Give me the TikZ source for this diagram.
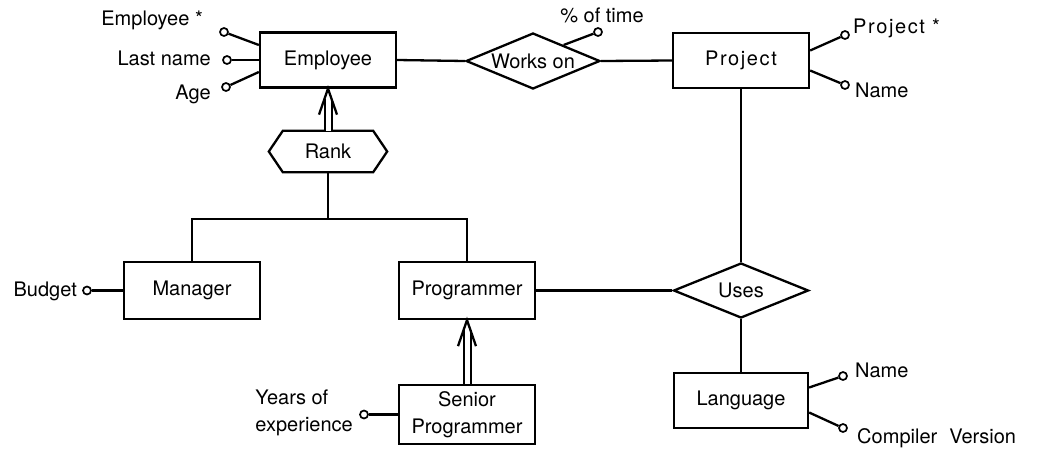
\documentclass[tikz,border=0pt]{standalone}
\usepackage{fontspec}
\setmainfont{TeX Gyre Heros}
\newfontfamily\spacedfont[LetterSpace=8]{TeX Gyre Heros}
\usetikzlibrary{shapes.geometric,calc}
\begin{document}
\begin{tikzpicture}[x=1pt,y=-1pt,
  every node/.style={font=\fontsize{20}{27}\selectfont},
  entity/.style={draw, line width=2.3pt, rectangle, minimum width=136pt, minimum height=55pt, inner sep=2pt, align=center},
  rel/.style={draw, line width=2.3pt, diamond, aspect=2.4, inner sep=0pt, minimum width=134pt, minimum height=56pt},
  hexa/.style={rectangle, inner sep=2pt, minimum width=118pt, minimum height=41pt},
  attr/.style={draw, circle, line width=1.7pt, inner sep=0pt, minimum size=8pt, fill=white},
  conn/.style={line width=2.3pt},
  dbl/.style={double, double distance=5pt, line width=2pt},
  lbl/.style={inner sep=0pt},
]
\useasboundingbox (0,0) rectangle (1037,448);

% entities and relationships
\node[entity] (emp) at (328,60) {Employee};
\node[rel] (works) at (533,61) {Works on};
\node[entity] (proj) at (741,60.5) {\spacedfont Project};
\node[hexa] (rank) at (328,151.5) {Rank};
\coordinate (bar) at (329,219);
\node[entity, minimum height=57pt] (mgr) at (192,290.5) {Manager};
\node[entity, minimum height=57pt] (prog) at (467,290.5) {Programmer};
\node[entity, minimum height=59pt] (senior) at (467,414.5) {Senior\\Programmer};
\node[rel, minimum width=135pt, minimum height=55pt] (uses) at (741,290.5) {Uses};
\node[entity, minimum width=134pt] (lang) at (741,400.5) {Language};

% hexagon for Rank
\draw[conn] (rank.west) -- ([xshift=14pt]rank.north west) -- ([xshift=-14pt]rank.north east)
  -- (rank.east) -- ([xshift=-14pt]rank.south east) -- ([xshift=14pt]rank.south west) -- cycle;

% connectors
\draw[conn] (emp.east) -- (works.west);
\draw[conn] (works.east) -- (proj.west);
\draw[conn] (proj.south) -- (uses.north);
\draw[conn] (prog.east) -- (uses.west);
\draw[conn] (uses.south) -- (lang.north);
\draw[conn] (rank.south) -- (rank.south |- bar);
\draw[conn] (mgr.north) -- (mgr.north |- bar) -- (prog.north |- bar) -- (prog.north);

% generalisation arrows
\draw[dbl] (rank.north) -- ([yshift=-10pt]emp.south);
\draw[conn] ([xshift=-9pt,yshift=-26pt]emp.south) -- (emp.south) -- ([xshift=9pt,yshift=-26pt]emp.south);
\draw[dbl] (senior.north) -- ([yshift=-10pt]prog.south);
\draw[conn] ([xshift=-9pt,yshift=-26pt]prog.south) -- (prog.south) -- ([xshift=9pt,yshift=-26pt]prog.south);

% attributes of Employee
\node[attr] (ea1) at (224,32) {};
\node[attr] (ea2) at (227,60) {};
\node[attr] (ea3) at (226,87) {};
\draw[conn] (ea1) -- ([yshift=15pt]emp.west);
\draw[conn] (ea2) -- (emp.west);
\draw[conn] (ea3) -- ([yshift=-12pt]emp.west);
\node[lbl, anchor=base east] (ea1l) at (203,25) {Employee *};
\node[lbl, anchor=base east] (ea2l) at (211,65) {Last name};
\node[lbl, anchor=base east] (ea3l) at (211,99) {Age};

% attribute of Works on
\node[attr] (ta) at (598,32) {};
\draw[conn] ($(works.north)!0.45!(works.east)$) -- (ta);
\node[lbl, anchor=base] (tal) at (602,22) {\% of time};

% attributes of Project
\node[attr] (pa1) at (845,35) {};
\node[attr] (pa2) at (845,85) {};
\draw[conn] ([yshift=10pt]proj.east) -- (pa1);
\draw[conn] ([yshift=-10pt]proj.east) -- (pa2);
\node[lbl, anchor=base west] (pa1l) at (853,33) {\spacedfont Project *};
\node[lbl, anchor=base west] (pa2l) at (855,97) {Name};

% attribute of Manager
\node[attr] (ba) at (87,290.5) {};
\draw[conn] (ba) -- (mgr.west);
\node[lbl, anchor=base east] (bal) at (77,296) {Budget};

% attribute of Senior Programmer
\node[attr] (ya) at (364,414.5) {};
\draw[conn] (ya) -- (senior.west);
\node[lbl, anchor=east, align=left] (yal) at (353,413) {Years of\\experience};

% attributes of Language
\node[attr] (la1) at (843,376) {};
\node[attr] (la2) at (843,428) {};
\draw[conn] ([yshift=13pt]lang.east) -- (la1);
\draw[conn] ([yshift=-12pt]lang.east) -- (la2);
\node[lbl, anchor=base west] (la1l) at (855,377) {Name};
\node[lbl, anchor=base west] (la2l) at (857,443) {Compiler\hspace{0.6em}Version};
\end{tikzpicture}
\end{document}
